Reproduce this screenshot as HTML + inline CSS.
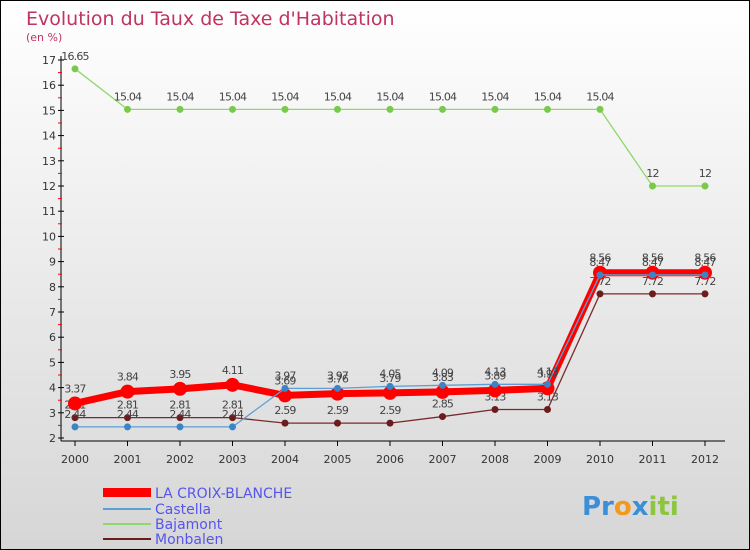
<!DOCTYPE html>
<html><head><meta charset="utf-8">
<style>
body{margin:0;width:750px;height:550px;overflow:hidden;font-family:"DejaVu Sans","Liberation Sans",sans-serif}
#c{position:absolute;left:0;top:0;width:748px;height:548px;border:1px solid #000;background:linear-gradient(#fff,#d6d6d6)}
</style></head><body>
<div id="c">
<svg id="s" width="750" height="550" style="position:absolute;left:-1px;top:-1px">
<text x="26" y="25" font-size="19" fill="#c0335f">Evolution du Taux de Taxe d'Habitation</text>
<text x="26" y="41" font-size="11" fill="#c0335f">(en %)</text>
<g id="axes"></g><g id="series"></g>
<g>
<rect x="103" y="488" width="48" height="9" fill="#f00"/>
<text x="155" y="498" font-size="14" fill="#5555ee">LA CROIX-BLANCHE</text>
<line x1="103" y1="509" x2="151" y2="509" stroke="#5b9fd6" stroke-width="2"/>
<text x="155" y="514" font-size="14" fill="#5555ee">Castella</text>
<line x1="103" y1="524" x2="151" y2="524" stroke="#8fd86a" stroke-width="2"/>
<text x="155" y="529" font-size="14" fill="#5555ee">Bajamont</text>
<line x1="103" y1="539" x2="151" y2="539" stroke="#6b1d1d" stroke-width="2"/>
<text x="155" y="544" font-size="14" fill="#5555ee">Monbalen</text>
</g>
<text x="582" y="515" font-size="26" font-weight="bold"><tspan fill="#3a8fd8">Pr</tspan><tspan fill="#f39a1e">o</tspan><tspan fill="#3a8fd8">x</tspan><tspan fill="#8cc63f">iti</tspan></text>
</svg></div>
<script>
const years=["2000","2001","2002","2003","2004","2005","2006","2007","2008","2009","2010","2011","2012"];
const yTicks=[2,3,4,5,6,7,8,9,10,11,12,13,14,15,16,17];
const croix=[3.37,3.84,3.95,4.11,3.69,3.76,3.79,3.83,3.89,3.97,8.56,8.56,8.56];
const castella=[2.44,2.44,2.44,2.44,3.97,3.97,4.05,4.09,4.13,4.13,8.47,8.47,8.47];
const bajamont=[16.65,15.04,15.04,15.04,15.04,15.04,15.04,15.04,15.04,15.04,15.04,12,12];
const monbalen=[2.81,2.81,2.81,2.81,2.59,2.59,2.59,2.85,3.13,3.13,7.72,7.72,7.72];
const NS="http://www.w3.org/2000/svg";
const X=i=>75+i*52.5, Y=v=>60+(17-v)*25.2;
function mk(t,a,p){const e=document.createElementNS(NS,t);for(const k in a)e.setAttribute(k,a[k]);p.appendChild(e);return e;}
const ax=document.getElementById('axes'), sr=document.getElementById('series');
let e=mk('line',{x1:61,y1:Y(17)-4,x2:61,y2:441,stroke:'#000'},ax);

e=mk('line',{x1:61,y1:441,x2:725,y2:441,stroke:'#000'},ax);

yTicks.forEach(v=>{mk('line',{x1:58,y1:Y(v),x2:64,y2:Y(v),stroke:'#000'},ax);
 if(v<17)mk('line',{x1:58,y1:Y(v+0.5),x2:62,y2:Y(v+0.5),stroke:'#f00'},ax);
 const t=mk('text',{x:56,y:Y(v)+4,'font-size':11,'text-anchor':'end',fill:'#333'},ax);t.textContent=v;
 });
years.forEach((y,i)=>{mk('line',{x1:X(i),y1:441,x2:X(i),y2:446,stroke:'#000'},ax);
 const t=mk('text',{x:X(i),y:463,'font-size':11,'text-anchor':'middle',fill:'#333'},ax);t.textContent=y;
 });
function series(d,name,col,w,r,dot,up){
 const g=mk('g',{},sr);
 mk('polyline',{points:d.map((v,i)=>X(i)+','+Y(v)).join(' '),fill:'none',stroke:col,'stroke-width':w},g);
 d.forEach((v,i)=>{const c=mk('circle',{cx:X(i),cy:Y(v),r:r,fill:dot},g);
  
  const t=mk('text',{x:X(i),y:Y(v)-up,'font-size':11,'text-anchor':'middle',fill:'#444','letter-spacing':'-0.8'},g);t.textContent=v;
  });
}
series(monbalen,'monbalen','#7a2a2a',1.3,3.5,'#6b1d1d',9);
series(bajamont,'bajamont','#8fd86a',1.3,3.5,'#79c94a',9);
series(croix,'la-croix-blanche','#f00',7,7,'#f00',11);
series(castella,'castella','#5b9fd6',1.3,3.5,'#3a85c8',9);
</script>
</body></html>
